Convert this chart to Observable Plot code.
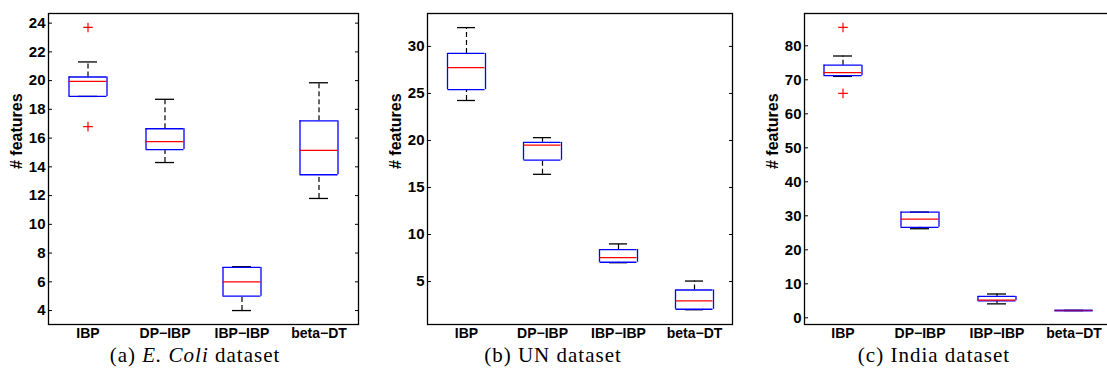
<!DOCTYPE html>
<html>
<head>
<meta charset="utf-8">
<script src="https://cdn.jsdelivr.net/npm/d3@7"></script>
<script src="https://cdn.jsdelivr.net/npm/@observablehq/plot@0.6"></script>
<style>
  body { margin: 0; background: #fff; }
  #wrap { position: relative; width: 1107px; height: 377px; overflow: hidden; background: #fff; }
  .panel { position: absolute; top: 0; overflow: hidden; height: 345px; }
  .panel svg { max-width: none !important; }
  .cap { position: absolute; top: 343px; font-family: "Liberation Serif", "DejaVu Serif", serif; font-size: 21px; color: #000; transform: translateX(-50%); white-space: nowrap; letter-spacing: 1px; }
</style>
</head>
<body>
<div id="wrap">
  <div class="panel" id="pa" style="left:0px;width:370px"></div>
  <div class="panel" id="pb" style="left:370px;width:370px"></div>
  <div class="panel" id="pc" style="left:740px;width:367px"></div>
  <div class="cap" style="left:195px">(a) <i>E. Coli</i> dataset</div>
  <div class="cap" style="left:553px">(b) UN dataset</div>
  <div class="cap" style="left:934px">(c) India dataset</div>
</div>
<script>
// Categories
const methods = ["IBP", "DP\u2212IBP", "IBP\u2212IBP", "beta\u2212DT"];
const yLabel = "# features";

// (a) E. Coli
const ecoliLo  = [18.9, 14.3, 4.0, 11.8];
const ecoliQ1  = [18.9, 15.2, 5.0, 13.45];
const ecoliMed = [19.95, 15.75, 6.0, 15.15];
const ecoliQ3  = [20.25, 16.65, 7.0, 17.2];
const ecoliHi  = [21.3, 18.7, 7.05, 19.85];
const ecoliOutMethod = ["IBP", "IBP"];
const ecoliOutValue  = [23.7, 16.8];
const ecoliTicks = [4, 6, 8, 10, 12, 14, 16, 18, 20, 22, 24];

// (b) UN
const unLo  = [24.25, 16.4, 7.0, 2.0];
const unQ1  = [25.4, 17.9, 7.05, 2.05];
const unMed = [27.75, 19.5, 7.55, 2.95];
const unQ3  = [29.25, 19.8, 8.4, 4.1];
const unHi  = [32.0, 20.3, 9.0, 5.05];
const unOutMethod = [];
const unOutValue  = [];
const unTicks = [5, 10, 15, 20, 25, 30];

// (c) India
const indiaLo  = [71.0, 26.2, 4.1, 2.15];
const indiaQ1  = [71.2, 26.6, 5.0, 2.15];
const indiaMed = [72.1, 29.0, 5.2, 2.15];
const indiaQ3  = [74.3, 31.1, 6.3, 2.15];
const indiaHi  = [77.0, 31.1, 7.0, 2.15];
const indiaOutMethod = ["IBP", "IBP"];
const indiaOutValue  = [85.4, 66.0];
const indiaTicks = [0, 10, 20, 30, 40, 50, 60, 70, 80];

function panel({lo, q1, med, q3, hi, outM, outV, domain, ticks, width, marginLeft, marginRight}) {
  const rows = methods.map((m, i) => ({m, lo: lo[i], q1: q1[i], med: med[i], q3: q3[i], hi: hi[i]}));
  const outs = outM.map((m, i) => ({m, v: outV[i]}));
  const boxInset = 19.5, capInset = 29, half = 19;
  const blue = "#0000ff", red = "#ff0000", sw = 1.3;
  return Plot.plot({
    width, height: 345,
    marginLeft, marginRight, marginTop: 13, marginBottom: 21,
    style: {fontFamily: "'Liberation Sans', Arial, sans-serif", fontSize: "14px", fontWeight: "bold", background: "transparent", color: "#000", maxWidth: "none"},
    x: {domain: methods, padding: 0, label: null},
    y: {domain, label: null},
    marks: [
      Plot.axisX({tickSize: 0, tickPadding: 4, fontWeight: "bold", fontSize: 14, label: null}),
      Plot.axisY(ticks, {tickSize: 0, tickPadding: 3, fontWeight: "bold", fontSize: 15, label: null}),
      Plot.axisY(ticks, {tickSize: -4, tickFormat: () => "", label: null, strokeWidth: 1}),
      Plot.axisY(ticks, {anchor: "right", tickSize: -4, tickFormat: () => "", label: null, strokeWidth: 1}),
      Plot.text([yLabel], {frameAnchor: "left", text: d => d, rotate: -90, dx: -32, fontWeight: "bold", fontSize: 16, fill: "#000"}),
      Plot.ruleX(rows, {x: "m", y1: "q3", y2: "hi", stroke: "#000", strokeWidth: 1.2, strokeDasharray: "5,3"}),
      Plot.ruleX(rows, {x: "m", y1: "lo", y2: "q1", stroke: "#000", strokeWidth: 1.2, strokeDasharray: "5,3"}),
      Plot.tickY(rows, {x: "m", y: "hi", stroke: "#000", strokeWidth: sw, inset: capInset}),
      Plot.tickY(rows, {x: "m", y: "lo", stroke: "#000", strokeWidth: sw, inset: capInset}),
      Plot.ruleX(rows, {x: "m", y1: "q1", y2: "q3", dx: -half, stroke: blue, strokeWidth: sw}),
      Plot.ruleX(rows, {x: "m", y1: "q1", y2: "q3", dx: half, stroke: blue, strokeWidth: sw}),
      Plot.tickY(rows, {x: "m", y: "q1", stroke: blue, strokeWidth: sw, inset: boxInset}),
      Plot.tickY(rows, {x: "m", y: "q3", stroke: blue, strokeWidth: sw, inset: boxInset}),
      Plot.tickY(rows, {x: "m", y: "med", stroke: red, strokeWidth: sw, inset: boxInset,
        strokeOpacity: d => (d.q1 === d.q3 ? 0.5 : 1)}),
      Plot.dot(outs, {x: "m", y: "v", symbol: "plus", stroke: red, r: 3.2, strokeWidth: 1.2}),
      Plot.frame({stroke: "#000", strokeWidth: 1.3})
    ]
  });
}

document.getElementById("pa").append(panel({
  lo: ecoliLo, q1: ecoliQ1, med: ecoliMed, q3: ecoliQ3, hi: ecoliHi,
  outM: ecoliOutMethod, outV: ecoliOutValue, domain: [3.03, 24.67], ticks: ecoliTicks,
  width: 370, marginLeft: 48, marginRight: 12
}));
document.getElementById("pb").append(panel({
  lo: unLo, q1: unQ1, med: unMed, q3: unQ3, hi: unHi,
  outM: unOutMethod, outV: unOutValue, domain: [0.43, 33.5], ticks: unTicks,
  width: 370, marginLeft: 57, marginRight: 8
}));
document.getElementById("pc").append(panel({
  lo: indiaLo, q1: indiaQ1, med: indiaMed, q3: indiaQ3, hi: indiaHi,
  outM: indiaOutMethod, outV: indiaOutValue, domain: [-1.97, 89.5], ticks: indiaTicks,
  width: 380, marginLeft: 64, marginRight: 8
}));
</script>
</body>
</html>
